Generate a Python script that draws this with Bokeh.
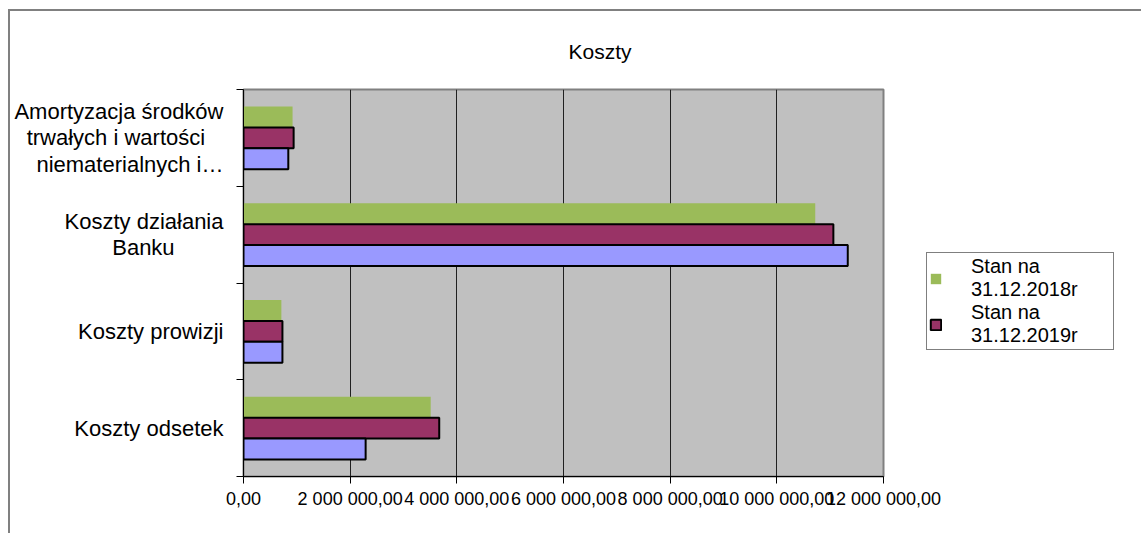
from bokeh.plotting import figure
from bokeh.models import Range1d, FixedTicker, Legend, LegendItem, ColumnDataSource, Title
from bokeh.embed import file_html
from bokeh.resources import INLINE

# ---- data ----
NB = "\u00a0"
categories = [
    "Koszty odsetek",
    "Koszty prowizji",
    "Koszty działania\nBanku" + NB * 8,
    "Amortyzacja środków\ntrwałych i wartości" + NB * 3 + "\nniematerialnych i…",
]
label_2018 = "Stan na\n31.12.2018r"
label_2019 = "Stan na\n31.12.2019r"
values_2018 = [3510000, 710000, 10720000, 920000]     # green
values_2019 = [3670000, 730000, 11060000, 940000]     # maroon
values_third = [2290000, 730000, 11330000, 840000]    # lavender (no legend entry)
x_ticks = [0, 2000000, 4000000, 6000000, 8000000, 10000000, 12000000]
x_tick_labels = ["0,00", "2 000 000,00", "4 000 000,00", "6 000 000,00",
                 "8 000 000,00", "10 000 000,00", "12 000 000,00"]
title_text = "Koszty"

FONT = "Liberation Sans"
BAR_H = 0.217

y_centers = [i + 0.5 for i in range(len(categories))]
y_bounds = [float(i) for i in range(len(categories) + 1)]

p = figure(
    frame_width=640, frame_height=387,
    min_border_left=233, min_border_right=258, min_border_top=77, min_border_bottom=58,
    x_range=Range1d(0, 12000000), y_range=Range1d(0, len(categories)),
    output_backend="svg", toolbar_location=None,
)
p.styles = {"margin-left": "8px", "margin-top": "9px",
            "border-left": "2px solid #808080", "border-top": "2px solid #808080"}
p.background_fill_color = "#C0C0C0"
p.border_fill_color = "white"
p.outline_line_color = "#808080"
p.outline_line_width = 2

t = Title(text=title_text, align="left", offset=325, standoff=53,
          text_font=FONT, text_font_size="21px", text_font_style="normal", text_color="black")
p.add_layout(t, "above")

src_2018 = ColumnDataSource(dict(y=[c + BAR_H for c in y_centers], v=values_2018))
src_2019 = ColumnDataSource(dict(y=y_centers, v=values_2019))
src_third = ColumnDataSource(dict(y=[c - BAR_H for c in y_centers], v=values_third))

r18 = p.hbar(y="y", right="v", left=0, height=BAR_H, source=src_2018,
             fill_color="#9BBB59", line_color=None)
r19 = p.hbar(y="y", right="v", left=0, height=BAR_H, source=src_2019,
             fill_color="#993366", line_color="black", line_width=2)
p.hbar(y="y", right="v", left=0, height=BAR_H, source=src_third,
       fill_color="#9999FF", line_color="black", line_width=2)

# x axis
xa = p.xaxis[0]
xa.ticker = FixedTicker(ticks=x_ticks)
xa.major_label_overrides = {t_: l_ for t_, l_ in zip(x_ticks, x_tick_labels)}
xa.major_tick_out = 7
xa.major_tick_in = 0
xa.minor_tick_line_color = None
xa.axis_line_color = "black"
xa.major_tick_line_color = "black"
xa.major_label_text_font = FONT
xa.major_label_text_font_size = "18px"
xa.major_label_text_color = "black"
xa.major_label_standoff = 5

# y axis: labels at centres, ticks at boundaries
ya = p.yaxis[0]
ya.ticker = FixedTicker(ticks=y_centers, minor_ticks=y_bounds)
ya.major_label_overrides = {c: l for c, l in zip(y_centers, categories)}
ya.major_tick_line_color = None
ya.major_tick_out = 0
ya.major_tick_in = 0
ya.minor_tick_out = 7
ya.minor_tick_in = 0
ya.minor_tick_line_color = "black"
ya.axis_line_color = "black"
ya.major_label_text_font = FONT
ya.major_label_text_font_size = "22px"
ya.major_label_text_color = "black"
ya.major_label_standoff = 13
ya.major_label_text_line_height = 1.05

p.xgrid.grid_line_color = "#202020"
p.xgrid.ticker = FixedTicker(ticks=x_ticks)
p.ygrid.grid_line_color = None

legend = Legend(
    items=[LegendItem(label=label_2018, renderers=[r18]),
           LegendItem(label=label_2019, renderers=[r19])],
    location=(43, 126),
    orientation="vertical",
    border_line_color="black", border_line_width=1,
    background_fill_color="white", background_fill_alpha=1,
    padding=2, spacing=0, margin=0,
    glyph_width=13, glyph_height=13, label_standoff=29,
    label_text_font=FONT, label_text_font_size="20px", label_text_color="black",
    label_text_line_height=0.85, label_width=140,
)
p.add_layout(legend, "right")

open("out.html", "w").write(file_html(p, INLINE))
